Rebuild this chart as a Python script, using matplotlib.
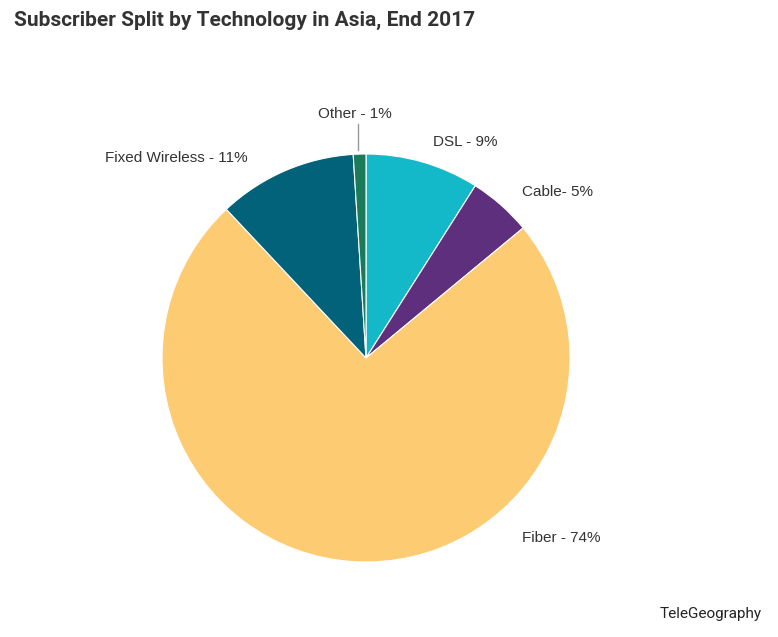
import matplotlib
matplotlib.use("Agg")
import matplotlib.pyplot as plt

# data (clockwise from 12 o'clock)
labels = ["DSL - 9%", "Cable- 5%", "Fiber - 74%", "Fixed Wireless - 11%", "Other - 1%"]
values = [9, 5, 74, 11, 1]
colors = ["#13b9c9", "#5e2f7c", "#fdcb72", "#01627a", "#1a7a5a"]

W, H = 778, 637
fig = plt.figure(figsize=(W / 100, H / 100), dpi=100)

cx, cy, r = 366, 358, 204
ax = fig.add_axes([(cx - r) / W, (H - cy - r) / H, 2 * r / W, 2 * r / H])
ax.pie(values, colors=colors, startangle=90, counterclock=False,
       wedgeprops=dict(edgecolor="white", linewidth=0.8))
ax.set_xlim(-1, 1)
ax.set_ylim(-1, 1)
ax.set_aspect("equal")
ax.axis("off")

def px(x, y):
    return x / W, 1 - y / H

# label positions in pixels
label_pos = [(433, 142, "left"), (522, 192, "left"), (522, 538, "left"),
             (248, 158, "right"), (318, 114, "left")]
for lab, (x, y, ha) in zip(labels, label_pos):
    fig.text(*px(x, y), lab, ha=ha, va="center", fontsize=11,
             family="Liberation Sans", color="#333333")

# leader line for "Other"
fig.add_artist(plt.Line2D([358 / W, 358 / W], [1 - 124 / H, 1 - 150 / H],
                          transform=fig.transFigure, color="#999999", lw=1))

fig.text(*px(14, 20), "Subscriber Split by Technology in Asia, End 2017",
         ha="left", va="center", fontsize=15, fontweight="bold",
         family="Roboto", color="#333333")
fig.text(*px(762, 614), "TeleGeography", ha="right", va="center",
         fontsize=11, family="Roboto", color="#222222")

fig.savefig("out.png", dpi=100, facecolor="white")
